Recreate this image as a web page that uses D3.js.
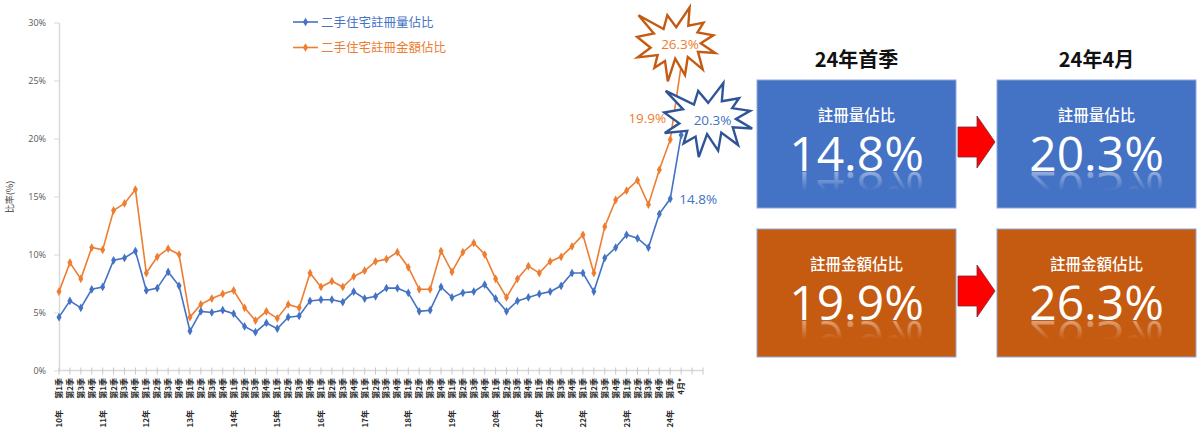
<!DOCTYPE html>
<html>
<head>
<meta charset="utf-8">
<script src="https://cdn.jsdelivr.net/npm/d3@7"></script>
<style>
  html, body { margin: 0; padding: 0; background: #fff; }
  svg { display: block; }
</style>
</head>
<body>
<svg id="chart" width="1200" height="442"></svg>
<script>
// ---- data ----
const years = ['10年', '11年', '12年', '13年', '14年', '15年', '16年', '17年',
    '18年', '19年', '20年', '21年', '22年', '23年', '24年'];
const quarterNames = ['第1季', '第2季', '第3季', '第4季'];
const lastLabel = '4月*';

// 二手住宅註冊量佔比 (%)
const volumeShare = [4.6, 6.0, 5.4, 7.0, 7.2, 9.5, 9.7, 10.3,
    6.9, 7.1, 8.5, 7.3, 3.4, 5.1, 5.0, 5.2,
    4.9, 3.8, 3.3, 4.1, 3.6, 4.6, 4.7, 6.0,
    6.1, 6.1, 5.9, 6.8, 6.2, 6.4, 7.1, 7.1,
    6.7, 5.1, 5.2, 7.2, 6.3, 6.7, 6.8, 7.4,
    6.2, 5.1, 6.0, 6.3, 6.6, 6.8, 7.3, 8.4,
    8.4, 6.8, 9.7, 10.6, 11.7, 11.4, 10.6, 13.5,
    14.8, 20.3];
// 二手住宅註冊金額佔比 (%)
const valueShare = [6.8, 9.3, 7.9, 10.6, 10.4, 13.8, 14.4, 15.6,
    8.4, 9.8, 10.5, 10.0, 4.6, 5.7, 6.2, 6.6,
    6.9, 5.4, 4.3, 5.1, 4.5, 5.7, 5.4, 8.4,
    7.2, 7.7, 7.2, 8.1, 8.6, 9.4, 9.6, 10.2,
    8.9, 7.0, 7.0, 10.3, 8.5, 10.2, 11.0, 10.0,
    7.9, 6.3, 7.9, 9.0, 8.4, 9.4, 9.8, 10.7,
    11.7, 8.4, 12.4, 14.7, 15.5, 16.4, 14.3, 17.3,
    19.9, 26.3];

const yTicks = [0, 5, 10, 15, 20, 25, 30];
const seriesNames = ['二手住宅註冊量佔比', '二手住宅註冊金額佔比'];
const panelTitles = ['24年首季', '24年4月'];
const panelLabels = ['註冊量佔比', '註冊金額佔比'];

// category labels: 10年第1季 ... 24年第1季, then 4月*
const categories = [];
years.forEach(y => {
    quarterNames.forEach((q, qi) => {
        if (y === '24年' && qi > 0) return;
        categories.push({ year: qi === 0 ? y : '', quarter: q });
    });
});
categories.push({ year: '', quarter: lastLabel });

const blue = '#4472C4';
const orange = '#ED7D31';
const cjk = '"Noto Sans CJK TC", "Noto Sans", sans-serif';
const latin = '"Open Sans", "Noto Sans", sans-serif';

const svg = d3.select('#chart');

// two empty slots at the end of the category axis
const x = d3.scalePoint()
    .domain(d3.range(categories.length + 2))
    .range([59, 703]);
const y = d3.scaleLinear().domain([0, 30]).range([370.5, 22.5]);

// ---- y axis ----
const yAxis = svg.append('g')
    .attr('transform', 'translate(59,0)')
    .call(d3.axisLeft(y).tickValues(yTicks).tickFormat(d => d + '%').tickSize(5).tickSizeOuter(0));
yAxis.select('.domain').attr('stroke', '#D9D9D9').attr('stroke-width', 1.5);
yAxis.selectAll('.tick line').attr('stroke', '#D9D9D9');
yAxis.selectAll('.tick text')
    .attr('x', -13)
    .attr('fill', '#595959')
    .style('font', `9px ${latin}`);

svg.append('text')
    .attr('transform', 'translate(13,197) rotate(-90)')
    .attr('text-anchor', 'middle')
    .attr('fill', '#404040')
    .style('font', `9px ${cjk}`)
    .text('比率(%)');

// ---- x axis ----
const xAxis = svg.append('g');
xAxis.append('line')
    .attr('x1', x(0)).attr('x2', x(categories.length + 1))
    .attr('y1', y(0)).attr('y2', y(0))
    .attr('stroke', '#D9D9D9').attr('stroke-width', 1.5);
xAxis.selectAll('.xtick')
    .data(x.domain())
    .enter().append('line')
    .attr('x1', d => x(d)).attr('x2', d => x(d))
    .attr('y1', y(0) - 3).attr('y2', y(0) + 4)
    .attr('stroke', '#C8C8C8');

xAxis.selectAll('.qlabel')
    .data(categories)
    .enter().append('text')
    .attr('transform', (d, i) => `translate(${x(i) + 3},378) rotate(-90)`)
    .attr('text-anchor', 'end')
    .attr('fill', '#262626')
    .style('font', `bold 8px ${cjk}`)
    .text(d => d.quarter);

xAxis.selectAll('.ylabel')
    .data(categories.filter(d => d.year))
    .enter().append('text')
    .attr('transform', d => `translate(${x(categories.indexOf(d)) + 3},410) rotate(-90)`)
    .attr('text-anchor', 'end')
    .attr('fill', '#262626')
    .style('font', `bold 8px ${cjk}`)
    .text(d => d.year);

// ---- lines ----
const line = d3.line().x((d, i) => x(i)).y(d => y(d));
const diamond = d3.symbol().type(d3.symbolDiamond).size(22);

function drawSeries(values, color) {
    const g = svg.append('g');
    g.append('path')
        .datum(values)
        .attr('d', line)
        .attr('fill', 'none')
        .attr('stroke', color)
        .attr('stroke-width', 1.6);
    g.selectAll('path.pt')
        .data(values)
        .enter().append('path')
        .attr('class', 'pt')
        .attr('d', diamond)
        .attr('transform', (d, i) => `translate(${x(i)},${y(d)})`)
        .attr('fill', color);
}
drawSeries(valueShare, orange);
drawSeries(volumeShare, blue);

// ---- legend ----
[blue, orange].forEach((c, i) => {
    const ly = 22 + i * 25.5;
    svg.append('line')
        .attr('x1', 293).attr('x2', 318).attr('y1', ly).attr('y2', ly)
        .attr('stroke', c).attr('stroke-width', 1.6);
    svg.append('path').attr('d', diamond).attr('transform', `translate(305.5,${ly})`).attr('fill', c);
    svg.append('text')
        .attr('x', 321).attr('y', ly).attr('dy', '0.36em')
        .attr('fill', c)
        .style('font', `12.5px ${cjk}`)
        .text(seriesNames[i]);
});

// ---- data labels ----
const qIdx = categories.length - 2; // 24年第1季
const mIdx = categories.length - 1; // 4月*
svg.append('text')
    .attr('x', x(qIdx) + 9).attr('y', y(volumeShare[qIdx])).attr('dy', '0.36em')
    .attr('fill', blue).style('font', `13.5px ${latin}`)
    .text(volumeShare[qIdx].toFixed(1) + '%');
svg.append('text')
    .attr('x', x(qIdx) - 4).attr('y', y(valueShare[qIdx]) - 22).attr('dy', '0.36em')
    .attr('text-anchor', 'end')
    .attr('fill', orange).style('font', `13.5px ${latin}`)
    .text(valueShare[qIdx].toFixed(1) + '%');

// explosion shape (Office irregularSeal1, 21600 grid)
const sealPts = [[10800, 5800], [14522, 0], [14155, 5325], [18380, 4457], [16702, 7315],
    [21097, 8137], [17607, 10475], [21600, 13290], [16837, 12942], [18145, 18095],
    [14020, 14457], [13247, 19737], [10532, 14935], [8485, 21600], [7715, 15627],
    [4762, 17617], [5667, 13937], [135, 14587], [3722, 11775], [0, 8615],
    [4627, 7617], [370, 2295], [7312, 6320], [8352, 2295]];

function explosion(x0, y0, w, h, stroke, textColor, label) {
    const pts = sealPts.map(p => [x0 + p[0] / 21600 * w, y0 + p[1] / 21600 * h]);
    svg.append('path')
        .attr('d', 'M' + pts.map(p => p.join(',')).join('L') + 'Z')
        .attr('fill', '#fff')
        .attr('stroke', stroke)
        .attr('stroke-width', 2.4)
        .attr('stroke-linejoin', 'miter');
    svg.append('text')
        .attr('x', x0 + w * 0.55).attr('y', y0 + h * 0.5).attr('dy', '0.36em')
        .attr('text-anchor', 'middle')
        .attr('fill', textColor)
        .style('font', `13.5px ${latin}`)
        .text(label);
}
explosion(x(mIdx) - 44, y(valueShare[mIdx]) - 58, 78, 74, '#C55A11', orange, valueShare[mIdx].toFixed(1) + '%');
explosion(x(mIdx) - 17, y(volumeShare[mIdx]) - 52, 88, 74, '#2F5597', blue, volumeShare[mIdx].toFixed(1) + '%');

// ---- right panel ----
const defs = svg.append('defs');
const grad = defs.append('linearGradient')
    .attr('id', 'refl').attr('x1', 0).attr('y1', 0).attr('x2', 0).attr('y2', 1);
grad.append('stop').attr('offset', 0).attr('stop-color', '#fff').attr('stop-opacity', 0);
grad.append('stop').attr('offset', 0.5).attr('stop-color', '#fff').attr('stop-opacity', 0);
grad.append('stop').attr('offset', 0.8).attr('stop-color', '#fff').attr('stop-opacity', 0.45);
grad.append('stop').attr('offset', 1).attr('stop-color', '#fff').attr('stop-opacity', 0.45);

const boxX = [757, 997];
const boxY = [80, 229];
const boxW = 199, boxH = 128;
const boxFill = ['#4472C4', '#C55A11'];
const boxValues = [
    [volumeShare[qIdx], volumeShare[mIdx]],
    [valueShare[qIdx], valueShare[mIdx]]
];

panelTitles.forEach((t, i) => {
    svg.append('text')
        .attr('x', boxX[i] + boxW / 2).attr('y', 60).attr('dy', '0.36em')
        .attr('text-anchor', 'middle')
        .attr('fill', '#111')
        .style('font', `bold 20px ${cjk}`)
        .text(t);
});

boxValues.forEach((row, r) => {
    row.forEach((v, c) => {
        const bx = boxX[c], by = boxY[r];
        const g = svg.append('g');
        g.append('rect')
            .attr('x', bx).attr('y', by).attr('width', boxW).attr('height', boxH)
            .attr('fill', boxFill[r])
            .attr('stroke', '#8FA8D8').attr('stroke-width', 1);
        g.append('text')
            .attr('x', bx + boxW / 2).attr('y', by + 35).attr('dy', '0.36em')
            .attr('text-anchor', 'middle')
            .attr('fill', '#fff')
            .style('font', `500 15.5px ${cjk}`)
            .text(panelLabels[r]);
        const base = by + 91;
        const label = v.toFixed(1) + '%';
        // mirrored reflection under the number
        g.append('text')
            .attr('x', bx + boxW / 2).attr('y', base)
            .attr('transform', `translate(0,${base * 2 + 1}) scale(1,-1)`)
            .attr('text-anchor', 'middle')
            .attr('fill', 'url(#refl)')
            .style('font', `48px ${latin}`)
            .text(label);
        g.append('text')
            .attr('x', bx + boxW / 2).attr('y', base)
            .attr('text-anchor', 'middle')
            .attr('fill', '#fff')
            .style('font', `48px ${latin}`)
            .text(label);
    });
    // red arrow between the boxes
    const ay = boxY[r] + 62;
    const arrow = [[958, ay - 15], [977, ay - 15], [977, ay - 26], [995, ay], [977, ay + 26], [977, ay + 15], [958, ay + 15]];
    svg.append('path')
        .attr('d', 'M' + arrow.map(p => p.join(',')).join('L') + 'Z')
        .attr('fill', '#FF0000')
        .attr('stroke', '#7A2A3A').attr('stroke-width', 0.8);
});
</script>
</body>
</html>
